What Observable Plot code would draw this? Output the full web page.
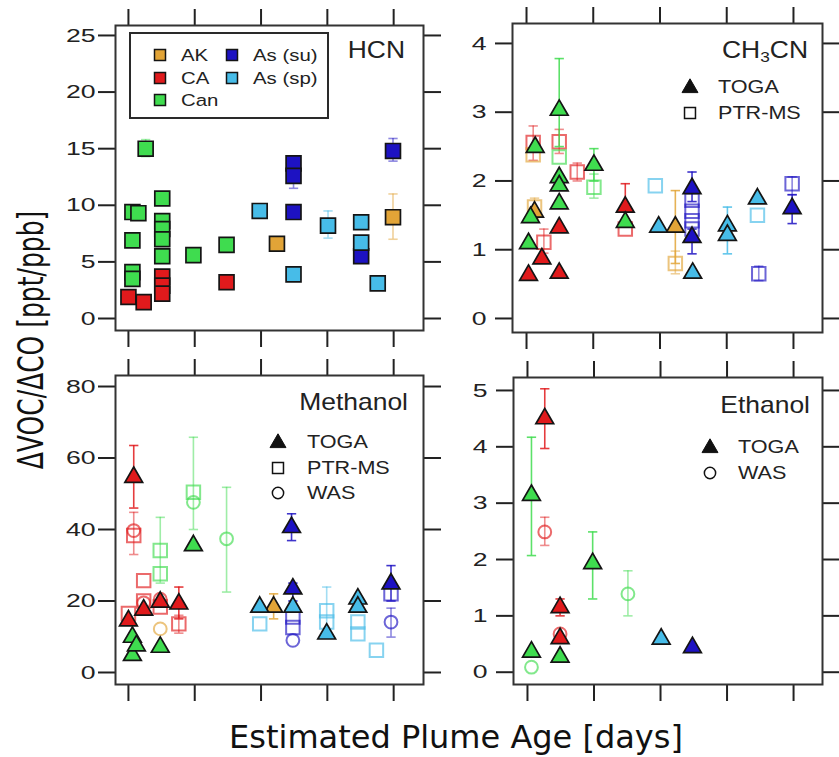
<!DOCTYPE html>
<html><head><meta charset="utf-8">
<script src="https://cdn.jsdelivr.net/npm/d3@7"></script>
<script src="https://cdn.jsdelivr.net/npm/@observablehq/plot@0.6"></script>
<style>
body{margin:0;background:#fff;}
#wrap{position:relative;width:839px;height:757px;overflow:hidden;background:#fff;}
.panel{position:absolute;}
</style></head><body><div id="wrap"></div>
<script>
// ---------- data ----------
const regions = ["AK", "CA", "Can", "As (su)", "As (sp)"];
const regionColors = ["#e2a437", "#e01a1c", "#3fdc4f", "#1d12c2", "#47bce8"];
const ageTicks = [0, 1, 2, 3, 4];
const hcnTicks = [0, 5, 10, 15, 20, 25];
const ch3cnTicks = [0, 1, 2, 3, 4];
const methanolTicks = [0, 20, 40, 60, 80];
const ethanolTicks = [0, 1, 2, 3, 4, 5];

// [region, instrument, age, value, lo, hi]
const hcn = [
  ["Can","CIMS",0.26,15.0,14.3,15.8],
  ["Can","CIMS",0.06,9.4],
  ["Can","CIMS",0.15,9.3],
  ["Can","CIMS",0.06,6.9],
  ["Can","CIMS",0.06,4.1],
  ["Can","CIMS",0.06,3.5],
  ["Can","CIMS",0.51,10.6],
  ["Can","CIMS",0.51,8.6],
  ["Can","CIMS",0.51,7.9],
  ["Can","CIMS",0.51,7.0],
  ["Can","CIMS",0.51,5.5],
  ["Can","CIMS",0.98,5.6],
  ["Can","CIMS",1.48,6.5],
  ["CA","CIMS",0.00,1.9],
  ["CA","CIMS",0.23,1.45],
  ["CA","CIMS",0.51,3.7],
  ["CA","CIMS",0.51,2.9],
  ["CA","CIMS",0.51,2.2],
  ["CA","CIMS",1.48,3.2],
  ["AK","CIMS",2.24,6.6],
  ["AK","CIMS",3.99,8.95,7.0,11.0],
  ["As (su)","CIMS",2.49,13.7,13.0,14.3],
  ["As (su)","CIMS",2.49,12.6,11.5,13.2],
  ["As (su)","CIMS",2.49,9.4],
  ["As (su)","CIMS",3.51,5.5],
  ["As (su)","CIMS",3.99,14.8,13.9,15.9],
  ["As (sp)","CIMS",1.98,9.5],
  ["As (sp)","CIMS",2.49,3.9],
  ["As (sp)","CIMS",3.01,8.2,7.1,9.5],
  ["As (sp)","CIMS",3.51,8.5],
  ["As (sp)","CIMS",3.51,6.7],
  ["As (sp)","CIMS",3.76,3.1]
];

const ch3cn = [
  ["CA","PTR-MS",0.10,2.56,2.3,2.8],
  ["AK","PTR-MS",0.10,2.38],
  ["AK","PTR-MS",0.12,1.62,1.45,1.75],
  ["CA","PTR-MS",0.26,1.11,0.95,1.3],
  ["CA","PTR-MS",0.49,2.57,2.4,2.75],
  ["Can","PTR-MS",0.49,2.35],
  ["CA","PTR-MS",0.76,2.13,2.0,2.26],
  ["Can","PTR-MS",1.01,1.91,1.75,2.1],
  ["CA","PTR-MS",1.48,1.3],
  ["As (sp)","PTR-MS",1.93,1.93],
  ["AK","PTR-MS",2.23,0.8,0.65,0.98],
  ["As (su)","PTR-MS",2.48,1.72],
  ["As (su)","PTR-MS",2.48,1.56],
  ["As (su)","PTR-MS",2.48,1.42],
  ["As (su)","PTR-MS",2.48,1.3],
  ["As (sp)","PTR-MS",3.46,1.5],
  ["As (su)","PTR-MS",3.48,0.65,0.55,0.76],
  ["As (su)","PTR-MS",3.98,1.96,1.8,2.06],
  ["CA","TOGA",0.03,0.63],
  ["CA","TOGA",0.23,0.87],
  ["CA","TOGA",0.49,0.66],
  ["CA","TOGA",0.49,1.32],
  ["CA","TOGA",1.48,1.62,1.4,1.96],
  ["AK","TOGA",0.12,1.55],
  ["Can","TOGA",0.49,3.03,2.5,3.78],
  ["Can","TOGA",0.13,2.49],
  ["Can","TOGA",0.49,2.05],
  ["Can","TOGA",0.49,1.93],
  ["Can","TOGA",0.49,1.67],
  ["Can","TOGA",0.06,1.47],
  ["Can","TOGA",0.03,1.09],
  ["Can","TOGA",1.01,2.23,2.0,2.47],
  ["Can","TOGA",1.48,1.40],
  ["AK","TOGA",2.23,1.33,0.8,1.86],
  ["As (sp)","TOGA",1.98,1.33],
  ["As (sp)","TOGA",2.49,0.66],
  ["As (sp)","TOGA",3.01,1.35,1.2,1.62],
  ["As (sp)","TOGA",3.01,1.21,0.94,1.3],
  ["As (sp)","TOGA",3.46,1.74],
  ["As (su)","TOGA",2.48,1.89,1.7,2.13],
  ["As (su)","TOGA",2.48,1.18,0.94,1.3],
  ["As (su)","TOGA",3.98,1.6,1.38,1.8]
];

const methanol = [
  ["CA","PTR-MS",0.08,38.3,33,44.8],
  ["CA","PTR-MS",0.23,25.7],
  ["CA","PTR-MS",0.00,16.5],
  ["CA","PTR-MS",0.23,20.0],
  ["CA","PTR-MS",0.48,18.3],
  ["CA","PTR-MS",0.76,13.6,11,16],
  ["Can","PTR-MS",0.48,34.1,25,43.4],
  ["Can","PTR-MS",0.48,27.6],
  ["Can","PTR-MS",0.98,50.4,40,65.8],
  ["As (sp)","PTR-MS",1.98,13.6],
  ["As (sp)","PTR-MS",2.99,17.3,11,23.9],
  ["As (sp)","PTR-MS",2.99,14.1],
  ["As (sp)","PTR-MS",3.46,14.1],
  ["As (sp)","PTR-MS",3.46,10.8],
  ["As (sp)","PTR-MS",3.74,6.2],
  ["As (su)","PTR-MS",2.48,15.5],
  ["As (su)","PTR-MS",2.48,12.6],
  ["As (su)","PTR-MS",3.96,22.0],
  ["CA","WAS",0.08,39.7],
  ["CA","WAS",0.23,19.5],
  ["CA","WAS",0.48,20.5],
  ["Can","WAS",0.98,47.6],
  ["Can","WAS",1.48,37.4,22.5,51.8],
  ["AK","WAS",0.48,12.2],
  ["As (su)","WAS",2.48,9.0],
  ["As (su)","WAS",3.96,14.1,9.9,18.0],
  ["CA","TOGA",0.08,54.6,46,63.5],
  ["CA","TOGA",0.00,14.5],
  ["CA","TOGA",0.23,17.5],
  ["CA","TOGA",0.48,19.7],
  ["CA","TOGA",0.76,19.2,15,23.9],
  ["Can","TOGA",0.06,4.8],
  ["Can","TOGA",0.06,9.9],
  ["Can","TOGA",0.12,7.5],
  ["Can","TOGA",0.48,7.1],
  ["Can","TOGA",0.98,35.5],
  ["AK","TOGA",2.19,18.3,15,22],
  ["As (sp)","TOGA",1.98,18.3],
  ["As (sp)","TOGA",2.48,18.3],
  ["As (sp)","TOGA",2.99,10.8],
  ["As (sp)","TOGA",3.46,20.6],
  ["As (sp)","TOGA",3.46,18.3],
  ["As (su)","TOGA",2.46,40.6,36.9,44.4],
  ["As (su)","TOGA",2.48,23.4,20,25],
  ["As (su)","TOGA",3.96,24.8,20,29.9]
];

const ethanol = [
  ["CA","WAS",0.26,2.49,2.25,2.75],
  ["CA","WAS",0.49,0.68],
  ["Can","WAS",1.51,1.39,1.0,1.8],
  ["Can","WAS",0.06,0.09],
  ["CA","TOGA",0.26,4.5,3.97,5.03],
  ["CA","TOGA",0.49,1.15,1.0,1.3],
  ["CA","TOGA",0.49,0.6],
  ["Can","TOGA",0.06,3.14,2.07,4.17],
  ["Can","TOGA",0.98,1.93,1.3,2.49],
  ["Can","TOGA",0.49,0.27],
  ["Can","TOGA",0.06,0.36],
  ["As (sp)","TOGA",2.01,0.59],
  ["As (su)","TOGA",2.48,0.44]
];

// ---------- styles ----------
const instStyle = {
  "CIMS":   {symbol: "square",   r: 8.4, filled: true},
  "PTR-MS": {symbol: "square",   r: 7.6, filled: false},
  "WAS":    {symbol: "circle",   r: 6.4, filled: false},
  "TOGA":   {symbol: "triangle", r: 6.6, filled: true}
};
const drawOrder = ["PTR-MS", "WAS", "CIMS", "TOGA"];
const colorOf = d => regionColors[regions.indexOf(d.region)];
const FONT = "'Liberation Sans', Arial, sans-serif";

function toRows(arr) {
  return arr.map(([region, inst, age, value, lo, hi]) => ({region, inst, age, value, lo, hi}));
}

function makePanel(arr, cfg) {
  const pts = toRows(arr);
  const marks = [
    Plot.axisX({anchor: "top", ticks: ageTicks, tickSize: 17, tickFormat: () => "", strokeWidth: 2}),
    Plot.axisX({anchor: "bottom", ticks: ageTicks, tickSize: 17, tickFormat: () => "", strokeWidth: 2}),
    Plot.axisY({anchor: "left", ticks: cfg.yTicks, tickSize: 17, tickPadding: cfg.pad, strokeWidth: 2, fontSize: 19, tickFormat: d => String(d)}),
    Plot.axisY({anchor: "right", ticks: cfg.yTicks, tickSize: 17, tickFormat: () => "", strokeWidth: 2})
  ];
  const cap = 0.07;
  for (const inst of drawOrder) {
    const s = instStyle[inst];
    const sub = pts.filter(d => d.inst === inst);
    if (!sub.length) continue;
    const err = sub.filter(d => d.lo != null);
    const eOp = inst === "TOGA" ? 0.85 : 0.5;
    marks.push(
      Plot.ruleX(err, {x: "age", y1: "lo", y2: "hi", stroke: colorOf, strokeWidth: 1.6, strokeOpacity: eOp}),
      Plot.link(err, {x1: d => d.age - cap, x2: d => d.age + cap, y1: "hi", y2: "hi", stroke: colorOf, strokeWidth: 1.6, strokeOpacity: eOp}),
      Plot.link(err, {x1: d => d.age - cap, x2: d => d.age + cap, y1: "lo", y2: "lo", stroke: colorOf, strokeWidth: 1.6, strokeOpacity: eOp})
    );
    if (s.filled) {
      marks.push(Plot.dot(sub, {x: "age", y: "value", symbol: s.symbol, r: s.r, fill: colorOf, stroke: "#141414", strokeWidth: 1.7}));
    } else {
      marks.push(Plot.dot(sub, {x: "age", y: "value", symbol: s.symbol, r: s.r, fill: "none", stroke: colorOf, strokeWidth: 2, strokeOpacity: 0.65}));
    }
  }
  marks.push(Plot.frame({stroke: "#333", strokeWidth: 2}));
  const svg = Plot.plot({
    width: cfg.width, height: cfg.height,
    marginLeft: cfg.ml, marginRight: cfg.mr, marginTop: cfg.mt, marginBottom: cfg.mb,
    x: {domain: cfg.xDomain, label: null},
    y: {domain: cfg.yDomain, label: null},
    color: {type: "identity"},
    style: {fontFamily: FONT, fontSize: "19px", color: "#222", background: "transparent", overflow: "visible"},
    marks
  });
  // widen tick labels horizontally like the reference (keep em-based offsets)
  d3.select(svg).selectAll('g[aria-label="y-axis tick label"] text').each(function() {
    let t = this.getAttribute("transform") || "";
    const xa = this.getAttribute("x");
    if (xa != null && !isNaN(+xa) && +xa !== 0) {
      this.removeAttribute("x");
      t = `${t} translate(${+xa},0)`;
    }
    this.setAttribute("transform", `${t} scale(1.4,1)`);
  });
  svg.classList.add("panel");
  svg.style.left = cfg.left + "px";
  svg.style.top = cfg.top + "px";
  return svg;
}

const wrap = document.getElementById("wrap");
wrap.appendChild(makePanel(hcn, {left: 0, top: 0, width: 440, height: 350, ml: 115, mr: 17, mt: 25, mb: 20,
  xDomain: [-0.195, 4.45], yDomain: [-1.06, 25.88], yTicks: hcnTicks, pad: 3}));
wrap.appendChild(makePanel(ch3cn, {left: 440, top: 0, width: 399, height: 350, ml: 72, mr: 17, mt: 23, mb: 18,
  xDomain: [-0.21, 4.435], yDomain: [-0.204, 4.29], yTicks: ch3cnTicks, pad: 9}));
wrap.appendChild(makePanel(methanol, {left: 0, top: 350, width: 440, height: 357, ml: 115, mr: 17, mt: 25, mb: 23,
  xDomain: [-0.195, 4.45], yDomain: [-3.36, 83.08], yTicks: methanolTicks, pad: 3}));
wrap.appendChild(makePanel(ethanol, {left: 440, top: 350, width: 399, height: 357, ml: 73, mr: 17, mt: 27, mb: 23,
  xDomain: [-0.21, 4.435], yDomain: [-0.218, 5.23], yTicks: ethanolTicks, pad: 9}));

// ---------- overlay: titles, legends, axis labels ----------
const ov = d3.create("svg").attr("width", 839).attr("height", 757)
  .style("position", "absolute").style("left", 0).style("top", 0).style("pointer-events", "none");

function txt(str, x, y, size, anchor, sx, family) {
  return ov.append("text").attr("transform", `translate(${x},${y}) scale(${sx},1)`)
    .attr("text-anchor", anchor).attr("dominant-baseline", "central")
    .attr("font-family", family || FONT).attr("font-size", size).attr("fill", "#222").text(str);
}
function sym(type, x, y, area, fill, stroke, sw) {
  ov.append("path").attr("transform", `translate(${x},${y})`)
    .attr("d", d3.symbol().type(type).size(area)())
    .attr("fill", fill).attr("stroke", stroke).attr("stroke-width", sw);
}

// HCN legend
ov.append("rect").attr("x", 130).attr("y", 33).attr("width", 198).attr("height", 85)
  .attr("fill", "#fff").attr("stroke", "#2a2a2a").attr("stroke-width", 2);
const legPos = [[160, 55], [160, 78], [160, 100], [232, 55], [232, 78]];
regions.forEach((r, i) => {
  const [x, y] = legPos[i];
  sym(d3.symbolSquare, x, y, 121, regionColors[i], "#141414", 1.5);
  txt(r, x + 21, y, 17, "start", 1.2);
});
txt("HCN", 405, 50, 23, "end", 1.15);

// CH3CN
const ch = txt("", 808, 50, 23, "end", 1.15);
ch.append("tspan").text("CH");
ch.append("tspan").attr("font-size", 15).attr("dy", 6).text("3");
ch.append("tspan").attr("dy", -6).text("CN");
sym(d3.symbolTriangle, 690, 88, 110, "#111", "#111", 1);
txt("TOGA", 718, 87, 18, "start", 1.2);
sym(d3.symbolSquare, 690, 113, 120, "none", "#111", 1.5);
txt("PTR-MS", 718, 113, 18, "start", 1.2);

// Methanol
txt("Methanol", 408, 402, 23, "end", 1.15);
sym(d3.symbolTriangle, 278, 443, 110, "#111", "#111", 1);
txt("TOGA", 307, 442, 18, "start", 1.2);
sym(d3.symbolSquare, 278, 468, 120, "none", "#111", 1.5);
txt("PTR-MS", 307, 468, 18, "start", 1.2);
sym(d3.symbolCircle, 278, 493, 100, "none", "#111", 1.5);
txt("WAS", 307, 493, 18, "start", 1.2);

// Ethanol
txt("Ethanol", 810, 405, 23, "end", 1.15);
sym(d3.symbolTriangle, 710, 448, 110, "#111", "#111", 1);
txt("TOGA", 738, 447, 18, "start", 1.2);
sym(d3.symbolCircle, 710, 473, 100, "none", "#111", 1.5);
txt("WAS", 738, 473, 18, "start", 1.2);

// axis titles
ov.append("text").attr("x", 456).attr("y", 748).attr("text-anchor", "middle")
  .attr("font-family", "'DejaVu Sans', Verdana, sans-serif").attr("font-size", 32).attr("fill", "#111")
  .text("Estimated Plume Age [days]");
ov.append("text").attr("transform", "translate(30,340) rotate(-90) scale(1,1.45)").attr("text-anchor", "middle")
  .attr("dominant-baseline", "central")
  .attr("font-family", "'DejaVu Sans', Verdana, sans-serif").attr("font-size", 25).attr("fill", "#111")
  .text("ΔVOC/ΔCO [ppt/ppb]");

wrap.appendChild(ov.node());
</script></body></html>
